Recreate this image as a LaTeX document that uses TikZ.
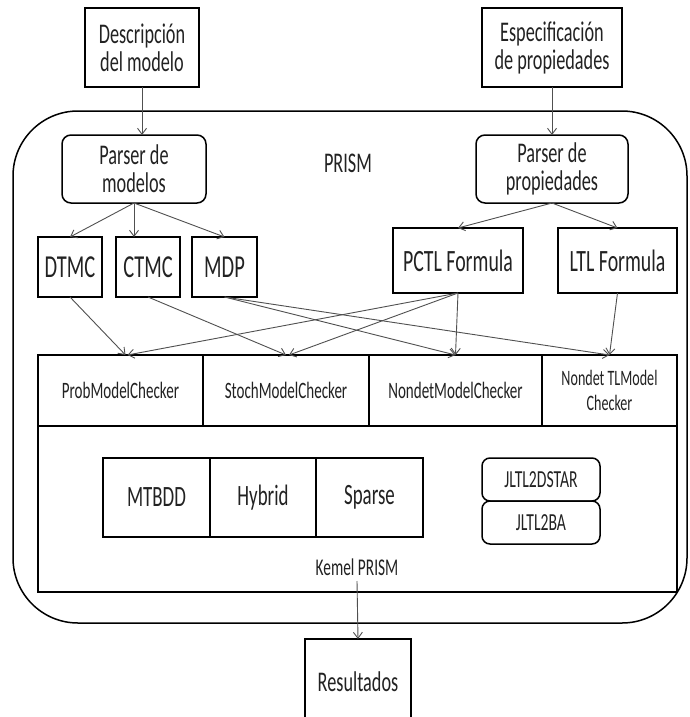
\documentclass[tikz,border=0pt]{standalone}
\usepackage{fontspec}
\setmainfont{Carlito}[FakeStretch=0.64]
\usetikzlibrary{arrows.meta}
\definecolor{txt}{HTML}{222222}
\definecolor{arr}{HTML}{505050}
\begin{document}
\begin{tikzpicture}[x=1pt,y=-1pt,
  box/.style={draw=black,line width=1.5pt,inner sep=0pt,outer sep=0pt,align=center,text=txt},
  rbox/.style={box,rounded corners=9pt},
  conn/.style={draw=arr,line width=0.9pt,-{Straight Barb[length=6pt,width=9pt]}},
  fA/.style={font=\fontsize{28.5}{28}\selectfont},
  fB/.style={font=\fontsize{32}{30}\selectfont},
  fC/.style={font=\fontsize{31}{30}\selectfont},
  fD/.style={font=\fontsize{23.5}{25}\selectfont},
  fE/.style={font=\fontsize{22}{25}\selectfont},
  fF/.style={font=\fontsize{29.5}{28}\selectfont},
  fG/.style={font=\fontsize{24}{24}\selectfont},
  fH/.style={font=\fontsize{24.5}{24}\selectfont},
]
\useasboundingbox (0,0) rectangle (689,717);
\clip (0,0) rectangle (689,717);
\fill[white] (0,0) rectangle (689,717);

% outer PRISM frame
\node[draw=black,line width=1.5pt,rounded corners=65pt,inner sep=0pt,outer sep=0pt,
      minimum width=674pt,minimum height=512pt] (prism) at (350,367) {};
\node[fA,text=txt,inner sep=0pt] (prismlbl) at (348,163) {PRISM};

% inputs
\node[box,fA,minimum width=114pt,minimum height=79pt] (desc) at (142,47.5) {Descripción\\del modelo};
\node[box,fA,minimum width=140pt,minimum height=79pt] (espec) at (552,47.5) {Especificación\\de propiedades};

% parsers
\node[rbox,fA,minimum width=144pt,minimum height=68pt] (pmod) at (134,169) {Parser de\\modelos};
\node[rbox,fA,minimum width=152pt,minimum height=68pt] (pprop) at (552,169) {Parser de\\propiedades};

% models and formulas
\node[box,fB,minimum width=64pt,minimum height=60pt] (dtmc) at (70,267) {DTMC};
\node[box,fB,minimum width=64pt,minimum height=60pt] (ctmc) at (148,267) {CTMC};
\node[box,fB,minimum width=65pt,minimum height=60pt] (mdp) at (224.5,267) {MDP};
\node[box,fC,minimum width=130pt,minimum height=65pt] (pctl) at (458,260.5) {PCTL Formula};
\node[box,fC,minimum width=119pt,minimum height=65pt] (ltl) at (617.5,260.5) {LTL Formula};

% model checkers
\node[box,fD,minimum width=165pt,minimum height=71pt] (prob) at (120.5,390.5) {ProbModelChecker};
\node[box,fD,minimum width=166pt,minimum height=71pt] (stoch) at (286,390.5) {StochModelChecker};
\node[box,fD,minimum width=173pt,minimum height=71pt] (nondet) at (455.5,390.5) {NondetModelChecker};
\node[box,fE,minimum width=135pt,minimum height=71pt] (ntl) at (609.5,390.5) {Nondet TLModel\\Checker};

% kernel
\node[box,line width=1.8pt,minimum width=639pt,minimum height=166pt] (kernel) at (357.5,509) {};
\node[box,fF,minimum width=107pt,minimum height=79pt] (mtbdd) at (156.5,497.5) {MTBDD};
\node[box,fF,minimum width=106pt,minimum height=79pt] (hybrid) at (263,497.5) {Hybrid};
\node[box,fF,minimum width=107pt,minimum height=79pt] (sparse) at (369.5,497.5) {Sparse};
\node[box,fH,rounded corners=8pt,minimum width=118pt,minimum height=43pt] (dstar) at (541,479.5) {JLTL2DSTAR};
\node[box,fH,rounded corners=8pt,minimum width=118pt,minimum height=43pt] (ba) at (541,522.5) {JLTL2BA};
\node[fG,text=txt,inner sep=0pt,outer sep=0pt,minimum height=28pt] (kemel) at (357,567) {Kemel PRISM};

% output
\node[box,fA,minimum width=106pt,minimum height=86pt] (res) at (358,682) {Resultados};

% connectors
\draw[conn] (desc.south) -- (desc.south |- pmod.north);
\draw[conn] (espec.south) -- (pprop.north);
\draw[conn] (pmod.south) -- (dtmc.north);
\draw[conn] (pmod.south) -- (pmod.south |- ctmc.north);
\draw[conn] (pmod.south) -- (mdp.north);
\draw[conn] (pprop.south) -- (pctl.north);
\draw[conn] (pprop.south) -- (ltl.north);
\draw[conn] (dtmc.south) -- ([xshift=5pt]prob.north);
\draw[conn] (ctmc.south) -- (stoch.north);
\draw[conn] (mdp.south) -- (nondet.north);
\draw[conn] (mdp.south) -- (ntl.north);
\draw[conn] (pctl.south) -- ([xshift=7pt]prob.north);
\draw[conn] (pctl.south) -- ([xshift=3pt]stoch.north);
\draw[conn] (pctl.south) -- (nondet.north);
\draw[conn] (ltl.south) -- (ntl.north);
\draw[conn] (kemel.south) -- (res.north);
\end{tikzpicture}
\end{document}
